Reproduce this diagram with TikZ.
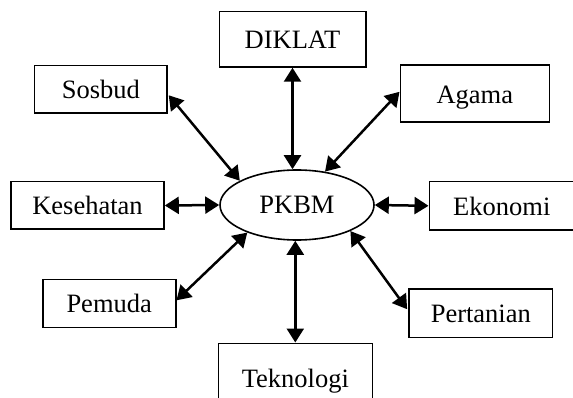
\documentclass[tikz,border=0pt]{standalone}
\usepackage{fontspec}
\setmainfont{Liberation Serif}
\usetikzlibrary{arrows.meta,shapes.geometric,calc}
\tikzset{
  boxnode/.style={draw, line width=1.6pt, rectangle, inner sep=0pt,
    text height=20pt, text depth=1pt,
    font=\fontsize{26.5}{30}\selectfont},
  ellnode/.style={draw, line width=1.6pt, ellipse, inner sep=0pt,
    minimum width=154pt, minimum height=70pt,
    text height=18pt, text depth=1pt,
    font=\fontsize{26.5}{30}\selectfont},
  link/.style={{Triangle[length=14pt,width=17pt]}-{Triangle[length=14pt,width=17pt]}, line width=2.5pt}
}
\begin{document}
\begin{tikzpicture}[x=1pt,y=-1pt]
\useasboundingbox (0,0) rectangle (573,398);
\node[ellnode] (pkbm) at (297,205) {PKBM};
\node[boxnode, minimum width=146.4pt, minimum height=55.3pt] (diklat) at (292.5,39.3) {DIKLAT};
\node[boxnode, minimum width=132.3pt, minimum height=47.3pt] (sosbud) at (100.8,89.3) {Sosbud};
\node[boxnode, minimum width=149pt, minimum height=57pt] (agama) at (474.8,93.8) {Agama};
\node[boxnode, minimum width=153pt, minimum height=47.6pt] (kesehatan) at (87.5,205.5) {Kesehatan};
\node[boxnode, minimum width=145pt, minimum height=48.3pt] (ekonomi) at (501.8,205.8) {Ekonomi};
\node[boxnode, minimum width=133pt, minimum height=48pt] (pemuda) at (109.2,303.3) {Pemuda};
\node[boxnode, minimum width=143.7pt, minimum height=48.3pt] (pertanian) at (480.8,313.2) {Pertanian};
\node[boxnode, minimum width=154pt, minimum height=70pt] (teknologi) at (295.3,378.3) {Teknologi};
\draw[link] (diklat.south) -- (diklat.south |- pkbm.north);
\draw[link] ($(sosbud.east)+(1,6)$) -- (pkbm.157);
\draw[link] ($(agama.west)+(0,-2)$) -- (pkbm.50);
\draw[link] (kesehatan.east) -- (pkbm.west);
\draw[link] (pkbm.east) -- (ekonomi.west);
\draw[link] ($(pemuda.east)+(0,-3)$) -- (pkbm.209);
\draw[link] (pkbm.334) -- ($(pertanian.west)+(-1,-4)$);
\draw[link] (teknologi.north |- pkbm.south) -- (teknologi.north);
\end{tikzpicture}
\end{document}
